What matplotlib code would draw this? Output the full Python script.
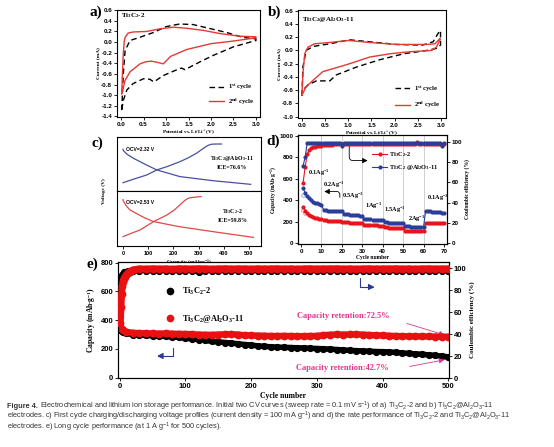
import matplotlib
matplotlib.use('Agg')
import matplotlib.pyplot as plt
from matplotlib.lines import Line2D
from matplotlib.ticker import FormatStrFormatter

plt.rcParams['font.family'] = ['Liberation Sans', 'DejaVu Sans']
plt.rcParams['font.weight'] = 'bold'
plt.rcParams['mathtext.default'] = 'regular'
plt.rcParams['axes.unicode_minus'] = False
plt.rcParams['axes.linewidth'] = 0.8
plt.rcParams['xtick.major.width'] = 0.6
plt.rcParams['ytick.major.width'] = 0.6
plt.rcParams['xtick.major.size'] = 2
plt.rcParams['ytick.major.size'] = 2
plt.rcParams['xtick.major.pad'] = 1.5
plt.rcParams['ytick.major.pad'] = 1.5

# ---------------- data ----------------
# (a) CV of Ti3C2-2
cv_a1_V = [0.015, 0.05, 0.09, 0.2, 0.42, 0.72, 1.0, 1.3, 1.6, 1.9, 2.35, 2.7, 3.0,
           3.0, 2.5, 2.05, 1.76, 1.42, 1.35, 1.3, 1.16, 0.94, 0.73, 0.64, 0.5, 0.27, 0.13, 0.05, 0.015]
cv_a1_I = [-1.28, -0.6, -0.16, 0.03, 0.09, 0.18, 0.29, 0.34, 0.33, 0.27, 0.18, 0.09, 0.06,
           0.03, -0.09, -0.25, -0.37, -0.52, -0.49, -0.5, -0.55, -0.63, -0.75, -0.7, -0.69, -0.78, -0.9, -1.1, -1.28]
cv_a2_V = [0.015, 0.03, 0.05, 0.07, 0.09, 0.16, 0.27, 0.57, 0.87, 1.16, 1.46, 1.83, 2.2, 2.64, 3.0,
           3.0, 2.5, 2.0, 1.46, 1.1, 0.94, 0.8, 0.68, 0.55, 0.42, 0.2, 0.09, 0.015]
cv_a2_I = [-0.97, -0.6, -0.22, 0.0, 0.09, 0.17, 0.19, 0.2, 0.25, 0.28, 0.26, 0.22, 0.16, 0.11, 0.1,
           0.08, 0.02, -0.03, -0.14, -0.27, -0.41, -0.38, -0.36, -0.37, -0.41, -0.56, -0.72, -0.97]
# (b) CV of Ti3C2@Al2O3-11
cv_b1_V = [0.0, 0.02, 0.09, 0.24, 0.6, 1.03, 1.46, 2.04, 2.6, 2.83, 2.94, 2.99,
           2.99, 2.9, 2.7, 2.2, 1.68, 1.18, 0.74, 0.6, 0.31, 0.13, 0.02, 0.0]
cv_b1_I = [-0.68, -0.25, 0.0, 0.06, 0.1, 0.16, 0.13, 0.09, 0.08, 0.13, 0.26, 0.3,
           0.08, 0.03, 0.0, -0.05, -0.14, -0.25, -0.37, -0.46, -0.46, -0.52, -0.6, -0.68]
cv_b2_V = [0.0, 0.02, 0.06, 0.13, 0.27, 0.6, 1.0, 1.46, 2.04, 2.7, 2.87, 2.98,
           2.98, 2.9, 2.8, 2.33, 1.9, 1.46, 1.03, 0.89, 0.45, 0.24, 0.09, 0.0]
cv_b2_I = [-0.67, -0.35, -0.05, 0.05, 0.1, 0.12, 0.15, 0.12, 0.09, 0.09, 0.1, 0.18,
           0.16, 0.05, 0.0, -0.02, -0.05, -0.1, -0.2, -0.23, -0.32, -0.45, -0.55, -0.67]
cv_xticks = [0.0, 0.5, 1.0, 1.5, 2.0, 2.5, 3.0]
cv_a_yticks = [-1.4, -1.2, -1.0, -0.8, -0.6, -0.4, -0.2, 0.0, 0.2, 0.4, 0.6]
cv_b_yticks = [-1.0, -0.8, -0.6, -0.4, -0.2, 0.0, 0.2, 0.4, 0.6]

# (c) first charge/discharge profiles
c_top_dis_cap = [0, 0, 3, 15, 41, 94, 134, 226, 359, 507]
c_top_dis_v = [2.32, 2.28, 2.22, 2.05, 1.82, 1.44, 1.17, 0.8, 0.57, 0.37]
c_top_chg_cap = [0, 40, 94, 134, 180, 226, 260, 292, 320, 338, 352, 370, 391]
c_top_chg_v = [0.46, 0.65, 0.89, 1.17, 1.38, 1.63, 1.85, 2.1, 2.38, 2.54, 2.6, 2.61, 2.61]
c_bot_dis_cap = [0, 0, 4, 12, 28, 81, 121, 226, 359, 518]
c_bot_dis_v = [2.53, 2.48, 2.4, 2.2, 1.96, 1.57, 1.33, 1.05, 0.78, 0.47]
c_bot_chg_cap = [0, 30, 67, 121, 174, 205, 226, 245, 258, 270, 290, 310]
c_bot_chg_v = [0.51, 0.68, 0.87, 1.33, 1.69, 1.98, 2.24, 2.48, 2.6, 2.64, 2.67, 2.69]
c_xticks = [0, 100, 200, 300, 400, 500]

# (d) rate performance
cyc_d = list(range(1, 71))
cap_d_red = [340, 300, 280, 265, 250, 242, 236, 230, 226, 222,
             215, 212, 210, 208, 206, 205, 204, 203, 202, 200,
             196, 194, 192, 191, 190, 189, 188, 187, 186, 185,
             172, 170, 168, 167, 166, 165, 164, 163, 162, 160,
             148, 146, 145, 144, 143, 142, 141, 140, 140, 139,
             115, 113, 112, 112, 111, 110, 110, 110, 109, 108,
             188, 187, 186, 186, 185, 185, 184, 184, 183, 183]
cap_d_blue = [510, 470, 435, 420, 400, 385, 375, 370, 362, 355,
              310, 305, 303, 302, 300, 300, 298, 298, 300, 295,
              275, 270, 268, 265, 263, 262, 260, 258, 257, 255,
              225, 222, 220, 220, 218, 218, 217, 216, 215, 215,
              195, 193, 191, 190, 189, 188, 187, 186, 185, 184,
              158, 156, 155, 154, 153, 152, 151, 150, 150, 149,
              298, 296, 295, 293, 292, 290, 288, 287, 285, 280]
ce_d_red = [59.8, 75, 88, 92, 94, 95, 95.5, 96, 96, 96.5,
            97, 97, 97, 97.5, 97.5, 98, 98, 98, 98, 98,
            98, 98, 98.5, 98.5, 98.5, 98.5, 98.5, 98.5, 98.5, 98.5,
            98.5, 98.5, 98.5, 98.5, 98.5, 98.5, 98.5, 98.5, 98.5, 98.5,
            98.5, 98.5, 98.5, 98.5, 98.5, 98.5, 98.5, 98.5, 98.5, 98.5,
            98.5, 98.5, 98.5, 98.5, 98.5, 98.5, 100.5, 98.5, 98.5, 98.5,
            98.5, 98.5, 98.5, 98.5, 98.5, 98.5, 98.5, 98.5, 98.5, 98.5]
ce_d_blue = [76.6, 85, 99, 99, 99, 99, 99, 99, 99, 99,
             99, 99, 99, 99, 99, 99, 99, 99, 99, 96.5,
             99, 99, 99, 99, 99, 99, 99, 99, 99, 99,
             99, 99, 99, 99, 99, 99, 99, 99, 99, 99,
             99, 99, 99, 99, 99, 99, 99, 99, 99, 99,
             99, 99, 99, 99, 99, 99, 99, 99, 99, 99,
             99, 99, 99, 99, 99, 99, 99, 99, 96.5, 99]
open_cyc_red = [1, 2]
open_cap_red = [310, 285]
open_cyc_blue = [1]
open_cap_blue = [452]
rate_change_cycles = [10, 20, 30, 40, 50, 60]
d_xticks = [0, 10, 20, 30, 40, 50, 60, 70]
d_yticks = [0, 200, 400, 600, 800, 1000]
d_y2ticks = [0, 20, 40, 60, 80, 100]

# (e) long cycling
cyc_e = [1, 3, 5, 10] + list(range(20, 501, 10))
cap_e_red = [352, 342, 333, 320,
             312, 310, 309, 308, 307, 308, 306, 305, 304,
             303, 300, 299, 298, 300, 302, 303, 300, 296, 294,
             293, 292, 290, 290, 291, 290, 289, 289, 290, 291,
             296, 299, 301, 300, 301, 302, 300, 297, 295, 294,
             292, 290, 289, 288, 288, 287, 287, 286, 286, 285]
cap_e_black = [330, 322, 316, 308,
               300, 297, 294, 292, 290, 287, 284, 280, 275,
               270, 265, 259, 254, 250, 245, 241, 236, 231, 227,
               222, 218, 215, 213, 211, 210, 208, 207, 205, 203,
               201, 199, 196, 193, 190, 188, 186, 184, 182, 181,
               179, 176, 172, 169, 166, 163, 159, 155, 150, 145]
cyc_e_ce = [1, 2, 3, 4, 5, 6, 7, 8, 10, 12, 15, 20] + list(range(30, 501, 10))
ce_e_red = [50, 65, 77, 84, 88, 90, 91, 92, 94, 95.5, 97, 98.5] + [
    99.5, 99.3, 99.6, 99.4, 99.5, 99.2, 99.6, 99.5, 99.4, 99.6,
    99.5, 99.3, 99.5, 99.6, 99.4, 99.5, 99.5, 99.3, 99.6, 99.4,
    99.5, 99.6, 99.4, 99.5, 99.3, 99.5, 99.6, 99.4, 99.5, 99.5,
    99.6, 99.4, 99.5, 99.3, 99.5, 99.6, 99.4, 99.5, 99.5, 99.6,
    99.4, 99.5, 99.3, 99.5, 99.6, 99.4, 99.5, 99.5]
ce_e_black = [57, 85, 92, 94, 95, 96, 96.5, 97, 97, 97.5, 97.5, 98] + [
    98, 98, 97.5, 98, 98, 98, 98, 98, 98, 96.5,
    98, 98, 98, 98, 98, 98, 98, 98, 98, 98,
    98, 98, 98, 98, 98, 98, 98, 98, 98, 98,
    98, 98, 98, 98, 98, 98, 98, 98, 98, 98,
    98, 98, 98, 98, 98, 98, 98, 98]
e_xticks = [0, 100, 200, 300, 400, 500]
e_yticks = [0, 200, 400, 600, 800]
e_y2ticks = [0, 20, 40, 60, 80, 100]

# ---------------- figure ----------------
W, H = 554, 447
fig = plt.figure(figsize=(W / 100, H / 100), dpi=100)
SERIF = dict(family=['Liberation Serif', 'DejaVu Serif'], weight='bold')

RED = '#e8141b'
BLUE = '#2b3d9a'
PINK = '#e0358a'


def ax_px(l, t, r, b):
    return fig.add_axes([l / W, 1 - b / H, (r - l) / W, (b - t) / H])


def style_ticks(ax, size):
    ax.tick_params(labelsize=size)
    for lab in ax.get_xticklabels() + ax.get_yticklabels():
        lab.set_fontweight('bold')


# panel letters
for txt, x, y in [('a)', 96, 12), ('b)', 275, 12), ('c)', 97, 143), ('d)', 273, 141), ('e)', 92, 264)]:
    fig.text(x / W, 1 - y / H, txt, fontsize=11, ha='center', va='center', **SERIF)

# ---- (a)
axa = ax_px(117, 9.5, 260, 117)
axa.plot(cv_a1_V, cv_a1_I, color='k', ls=(0, (4, 2.5)), lw=1.0, label=r'1$^{st}$ cycle')
axa.plot(cv_a2_V, cv_a2_I, color='#e53935', lw=1.0, label=r'2$^{nd}$ cycle')
axa.set_xlim(-0.09, 3.09)
axa.set_ylim(-1.41, 0.613)
axa.set_xticks(cv_xticks)
axa.set_yticks(cv_a_yticks)
axa.xaxis.set_major_formatter(FormatStrFormatter('%.1f'))
axa.yaxis.set_major_formatter(FormatStrFormatter('%.1f'))
style_ticks(axa, 4.5)
axa.set_xlabel(r'Potential vs. Li/Li$^+$(V)', fontsize=3.8, labelpad=1, **SERIF)
axa.set_ylabel('Current (mA)', fontsize=3.8, labelpad=1, **SERIF)
axa.text(0.03, 0.93, r'Ti$_3$C$_2$-2', transform=axa.transAxes, fontsize=5, **SERIF)
axa.legend(loc='lower right', bbox_to_anchor=(0.99, 0.05), frameon=False,
           prop=dict(family='Liberation Serif', weight='bold', size=4.8),
           handlelength=2.3, labelspacing=0.7, handletextpad=0.5, borderpad=0.2)

# ---- (b)
axb = ax_px(298, 10, 446, 118)
axb.plot(cv_b1_V, cv_b1_I, color='k', ls=(0, (4, 2.5)), lw=1.0, label=r'1$^{st}$ cycle')
axb.plot(cv_b2_V, cv_b2_I, color='#e53935', lw=1.0, label=r'2$^{nd}$ cycle')
axb.set_xlim(-0.086, 3.108)
axb.set_ylim(-1.02, 0.61)
axb.set_xticks(cv_xticks)
axb.set_yticks(cv_b_yticks)
axb.xaxis.set_major_formatter(FormatStrFormatter('%.1f'))
axb.yaxis.set_major_formatter(FormatStrFormatter('%.1f'))
style_ticks(axb, 4.5)
axb.set_xlabel(r'Potential vs. Li/Li$^+$(V)', fontsize=3.8, labelpad=1, **SERIF)
axb.set_ylabel('Current (mA)', fontsize=3.8, labelpad=1, **SERIF)
axb.text(0.03, 0.9, r'Ti$_3$C$_2$@Al$_2$O$_3$-11', transform=axb.transAxes, fontsize=5, **SERIF)
axb.legend(loc='lower right', bbox_to_anchor=(0.99, 0.03), frameon=False,
           prop=dict(family='Liberation Serif', weight='bold', size=4.8),
           handlelength=2.3, labelspacing=0.9, handletextpad=0.5, borderpad=0.2)

# ---- (c)
axc1 = ax_px(117, 137, 261, 191)
axc2 = ax_px(117, 191, 261, 246)
axc1.plot(c_top_dis_cap, c_top_dis_v, color='#4a4fa3', lw=0.9)
axc1.plot(c_top_chg_cap, c_top_chg_v, color='#4a4fa3', lw=0.9)
axc2.plot(c_bot_dis_cap, c_bot_dis_v, color='#e04848', lw=0.9)
axc2.plot(c_bot_chg_cap, c_bot_chg_v, color='#e04848', lw=0.9)
for ax in (axc1, axc2):
    ax.set_xlim(-24, 548)
    ax.set_ylim(0, 3.0)
    ax.tick_params(left=False, labelleft=False)
axc1.tick_params(bottom=False, labelbottom=False)
axc2.set_xticks(c_xticks)
style_ticks(axc2, 4)
axc2.set_xlabel(r'Capacity (mAh$\bullet$g$^{-1}$)', fontsize=3.8, labelpad=1, **SERIF)
fig.text(104 / W, 1 - 191 / H, 'Voltage (V)', rotation=90, fontsize=3.8, ha='center', va='center', **SERIF)
axc1.text(0.06, 0.76, 'OCV=2.32 V', transform=axc1.transAxes, fontsize=3.6, weight='bold', va='center')
axc2.text(0.06, 0.8, 'OCV=2.53 V', transform=axc2.transAxes, fontsize=3.6, weight='bold', va='center')
axc1.text(0.80, 0.61, r'Ti$_3$C$_2$@Al$_2$O$_3$-11', transform=axc1.transAxes, fontsize=4.2, ha='center', va='center', **SERIF)
axc1.text(0.80, 0.44, 'ICE=76.6%', transform=axc1.transAxes, fontsize=4.2, ha='center', va='center', **SERIF)
axc2.text(0.80, 0.63, r'Ti$_3$C$_2$-2', transform=axc2.transAxes, fontsize=4.2, ha='center', va='center', **SERIF)
axc2.text(0.80, 0.47, 'ICE=59.8%', transform=axc2.transAxes, fontsize=4.2, ha='center', va='center', **SERIF)

# ---- (d)
axd = ax_px(298, 135, 447, 244)
for xv in rate_change_cycles:
    axd.axvline(xv, color='#c8c8c8', lw=0.6, zorder=0)
axd.plot(open_cyc_red, open_cap_red, 'o', mfc='none', mec='#f08080', ms=2.6, mew=0.6)
axd.plot(open_cyc_blue, open_cap_blue, 'o', mfc='none', mec='#8a9ad8', ms=2.6, mew=0.6)
lr, = axd.plot(cyc_d, cap_d_red, '-o', color=RED, ms=2.0, lw=0.8, label=r'Ti$_3$C$_2$-2')
lb, = axd.plot(cyc_d, cap_d_blue, '-o', color=BLUE, ms=2.0, lw=0.8, label=r'Ti$_3$C$_2$ @Al$_2$O$_3$-11')
axd.set_xlim(-1.5, 71.5)
axd.set_ylim(-9, 1009)
axd.set_xticks(d_xticks)
axd.set_yticks(d_yticks)
style_ticks(axd, 4.5)
axd.set_xlabel('Cycle number', fontsize=4, labelpad=1, **SERIF)
axd.set_ylabel(r'Capacity (mAh$\bullet$g$^{-1}$)', fontsize=4, labelpad=1, **SERIF)
axd2 = axd.twinx()
axd2.plot(cyc_d, ce_d_red, '-o', color=RED, ms=2.0, lw=0.8)
axd2.plot(cyc_d, ce_d_blue, '-o', color=BLUE, ms=2.0, lw=0.8)
axd2.set_ylim(-1, 107)
axd2.set_yticks(d_y2ticks)
style_ticks(axd2, 4.5)
axd2.set_ylabel('Coulombic efficiency (%)', fontsize=4, labelpad=1.5, **SERIF)
axd2.legend(handles=[lr, lb], loc='upper left', bbox_to_anchor=((368 - 298) / 149, (244 - 146) / 109),
            frameon=False, prop=dict(family='Liberation Serif', weight='bold', size=4.6),
            handlelength=2.2, labelspacing=0.6, handletextpad=0.4, borderpad=0.2)
for txt, x, y in [(r'0.1Ag$^{-1}$', 3.5, 655), (r'0.2Ag$^{-1}$', 10.8, 540), (r'0.5Ag$^{-1}$', 20.3, 440),
                  (r'1Ag$^{-1}$', 31.5, 348), (r'1.5Ag$^{-1}$', 40.5, 310), (r'2Ag$^{-1}$', 52.5, 225),
                  (r'0.1Ag$^{-1}$', 61.5, 420)]:
    axd.text(x, y, txt, fontsize=4.5, va='center', **SERIF)
axd.annotate('', xy=(10, 481), xytext=(19, 400),
             arrowprops=dict(arrowstyle='-|>,head_length=0.3,head_width=0.15', color='k', lw=0.6,
                             connectionstyle='angle,angleA=90,angleB=0,rad=3'))
axd.annotate('', xy=(34, 770), xytext=(23.6, 935),
             arrowprops=dict(arrowstyle='-|>,head_length=0.3,head_width=0.15', color='k', lw=0.6,
                             connectionstyle='angle,angleA=-90,angleB=180,rad=4'))

# ---- (e)
axe = ax_px(118, 261.7, 449, 378.3)
axe.plot(cyc_e, cap_e_black, '-o', color='k', ms=4.2, lw=4.0, zorder=3)
axe.plot(cyc_e, cap_e_red, '-o', color='#e81010', ms=4.6, lw=4.6, zorder=4)
axe.set_xlim(-2.5, 501)
axe.set_ylim(-4, 807)
axe.set_xticks(e_xticks)
axe.set_yticks(e_yticks)
style_ticks(axe, 5.5)
axe.set_xlabel('Cycle number', fontsize=5.5, labelpad=1, **SERIF)
axe.set_ylabel(r'Capacity (mAh$\bullet$g$^{-1}$)', fontsize=5.5, labelpad=2, **SERIF)
axe2 = axe.twinx()
axe2.plot(cyc_e_ce, ce_e_black, '-o', color='k', ms=4.2, lw=3.5, zorder=3)
axe2.plot(cyc_e_ce, ce_e_red, '-o', color='#e81010', ms=4.6, lw=5.0, zorder=4)
axe2.set_ylim(0, 106)
axe2.set_yticks(e_y2ticks)
style_ticks(axe2, 5.5)
axe2.set_ylabel('Coulombic efficiency (%)', fontsize=5, labelpad=2, **SERIF)
hk = Line2D([], [], marker='o', ls='none', color='k', ms=4.5)
hr = Line2D([], [], marker='o', ls='none', color='#e81010', ms=4.5)
axe2.legend(handles=[hk, hr], labels=[r'Ti$_3$C$_2$-2', r'Ti$_3$C$_2$@Al$_2$O$_3$-11'],
            loc='upper left', bbox_to_anchor=((160 - 118) / 331, (378 - 280) / 116.6),
            frameon=False, prop=dict(family='Liberation Serif', weight='bold', size=6),
            handlelength=1.0, labelspacing=1.9, handletextpad=0.9, borderpad=0.2)
axe.text(340, 429, 'Capacity retention:72.5%', fontsize=6, color=PINK, ha='center', va='center', **SERIF)
axe.text(339, 68, 'Capacity retention:42.7%', fontsize=6, color=PINK, ha='center', va='center', **SERIF)
axe.annotate('', xy=(498, 292), xytext=(433, 383),
             arrowprops=dict(arrowstyle='-|>,head_length=0.3,head_width=0.15', color=PINK, lw=0.6))
axe.annotate('', xy=(498, 128), xytext=(437, 75),
             arrowprops=dict(arrowstyle='-|>,head_length=0.3,head_width=0.15', color=PINK, lw=0.6))
axe.annotate('', xy=(392, 631), xytext=(366, 715),
             arrowprops=dict(arrowstyle='-|>,head_length=0.35,head_width=0.18', color='#2b3a8f', lw=0.8,
                             connectionstyle='angle,angleA=90,angleB=0,rad=0'))
axe.annotate('', xy=(52.6, 151), xytext=(81.4, 228),
             arrowprops=dict(arrowstyle='-|>,head_length=0.35,head_width=0.18', color='#2b3a8f', lw=0.8,
                             connectionstyle='angle,angleA=90,angleB=0,rad=0'))

# ---- caption
cap1a = 'Figure 4.'
cap1b = (' Electrochemical and lithium ion storage performance. Initial two CV curves '
         '(sweep rate = 0.1 mV s$^{-1}$) of a) Ti$_3$C$_2$-2 and b) Ti$_3$C$_2$@Al$_2$O$_3$-11')
cap2 = ('electrodes. c) First cycle charging/discharging voltage profiles (current density = '
        '100 mA g$^{-1}$) and d) the rate performance of Ti$_3$C$_2$-2 and Ti$_3$C$_2$@Al$_2$O$_3$-11')
cap3 = 'electrodes. e) Long cycle performance (at 1 A g$^{-1}$ for 500 cycles).'
renderer = fig.canvas.get_renderer()
fs0 = 5.0
ta = fig.text(7 / W, 1 - 406 / H, cap1a, fontsize=fs0, weight='bold', color='#333333', va='center')
tb = fig.text(0, 1 - 406 / H, cap1b, fontsize=fs0, weight='normal', color='#333333', va='center')
wa = ta.get_window_extent(renderer).width
wb = tb.get_window_extent(renderer).width
fs = fs0 * 494.0 / (wa + wb)
ta.set_fontsize(fs)
tb.set_fontsize(fs)
wa = ta.get_window_extent(renderer).width
tb.set_x((7 + wa) / W)
fig.text(7 / W, 1 - 416.8 / H, cap2, fontsize=fs, weight='normal', color='#333333', va='center')
fig.text(7 / W, 1 - 427.6 / H, cap3, fontsize=fs, weight='normal', color='#333333', va='center')

fig.savefig('out.png', dpi=100)
